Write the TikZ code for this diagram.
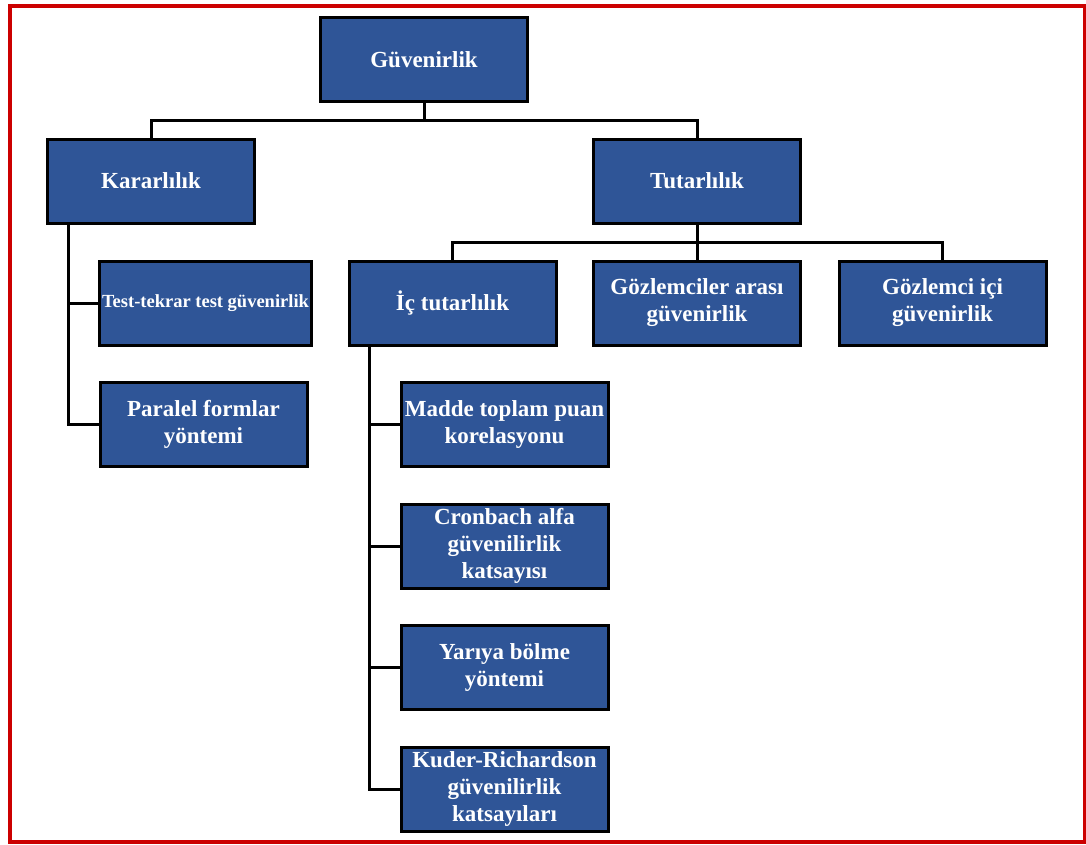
\documentclass[tikz,border=0pt]{standalone}
\usepackage{fontspec}
\setmainfont{Liberation Serif}
\usetikzlibrary{positioning}
\definecolor{boxblue}{RGB}{47,85,151}
\definecolor{framered}{RGB}{204,0,0}

\begin{document}
\begin{tikzpicture}[
      x=1pt, y=-1pt,
      node distance=34.5pt,
      box/.style={rectangle, draw=black, line width=3pt, fill=boxblue, text=white,
         font=\fontsize{23}{27}\selectfont\bfseries, align=center,
         minimum width=207pt, minimum height=84pt, inner sep=2pt},
      smalltext/.style={font=\fontsize{18.5}{22}\selectfont\bfseries},
      link/.style={line width=3pt, black},
      frame/.style={draw=framered, line width=4pt}
   ]
      \useasboundingbox (0,0) rectangle (1086,844);
      \draw[frame] (9.5,6) rectangle (1084.5,842);

      % Nodes for the top levels
      \node[box] (guv) at (424,59.5) {Güvenirlik};
      \node[box] (kar) at (151,181) {Kararlılık};
      \node[box] (tut) at (697,181) {Tutarlılık};

      % Nodes under Kararlılık
      \node[box, smalltext, minimum width=212pt] (test) at (205.5,303) {Test-tekrar test güvenirlik};
      \node[box] (par) at (203.5,424.5) {Paralel formlar\\yöntemi};

      % Nodes under Tutarlılık
      \node[box] (ic) at (452.5,303) {İç tutarlılık};
      \node[box] (goz) at (697,303) {Gözlemciler arası\\güvenirlik};
      \node[box] (gic) at (942.5,303) {Gözlemci içi\\güvenirlik};

      % Nodes under İç tutarlılık
      \node[box] (mad) at (504.5,424.5) {Madde toplam puan\\korelasyonu};
      \node[box] (cro) [below=of mad] {Cronbach alfa\\güvenilirlik\\katsayısı};
      \node[box] (yar) [below=of cro] {Yarıya bölme\\yöntemi};
      \node[box] (kud) [below=of yar] {Kuder-Richardson\\güvenilirlik\\katsayıları};

      % Connectors
      \draw[link] (guv.south) -- ++(0,17) -| (kar.north);
      \draw[link] (guv.south) -- ++(0,17) -| (tut.north);
      \draw[link] (tut.south) -- ++(0,17.5) -| (ic.north);
      \draw[link] (tut.south) -- ++(0,17.5) -| (goz.north);
      \draw[link] (tut.south) -- ++(0,17.5) -| (gic.north);

      \coordinate (kspine) at ([xshift=22pt]kar.south west);
      \draw[link] (kspine) |- (test.west);
      \draw[link] (kspine) |- (par.west);

      \coordinate (ispine) at ([xshift=22pt]ic.south west);
      \foreach \n in {mad, cro, yar, kud}
         \draw[link] (ispine) |- (\n.west);

   \end{tikzpicture}
\end{document}
